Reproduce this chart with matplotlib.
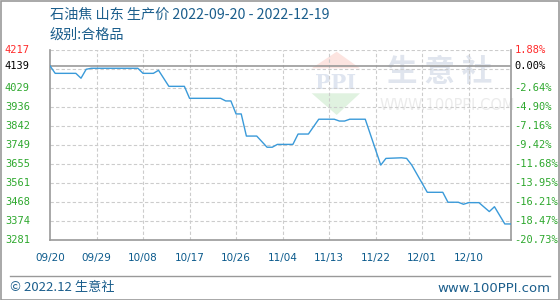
import matplotlib
matplotlib.use("Agg")
import matplotlib.pyplot as plt
from matplotlib.patches import Polygon, Rectangle
from matplotlib.lines import Line2D
import numpy as np
import datetime as dt

plt.rcParams['font.family'] = ['Noto Sans CJK SC', 'DejaVu Sans']

title = "石油焦 山东 生产价 2022-09-20 - 2022-12-19"
subtitle = "级别:合格品"
start_date = "2022-09-20"
dates = ["09-20", "09-21", "09-25", "09-26", "09-27", "09-28", "10-07", "10-08",
         "10-10", "10-11", "10-13", "10-16", "10-17", "10-23", "10-24", "10-25",
         "10-26", "10-27", "10-28", "10-30", "11-01", "11-02", "11-03", "11-06",
         "11-07", "11-09", "11-11", "11-14", "11-15", "11-16", "11-17", "11-20",
         "11-23", "11-24", "11-27", "11-28", "11-29", "12-02", "12-05", "12-06",
         "12-08", "12-09", "12-10", "12-12", "12-14", "12-15", "12-17", "12-19"]
prices = [4139, 4102, 4102, 4078, 4122, 4127, 4127, 4102,
          4102, 4117, 4038, 4038, 3979, 3979, 3966, 3966,
          3902, 3902, 3793, 3793, 3738, 3738, 3752, 3752,
          3803, 3803, 3876, 3876, 3867, 3867, 3876, 3876,
          3650, 3683, 3686, 3683, 3650, 3516, 3516, 3467,
          3467, 3457, 3465, 3465, 3421, 3445, 3360, 3360]
base_price = 4139
y_top, y_bottom = 4217, 3281
left_labels = ["4217", "4139", "4029", "3936", "3842", "3749", "3655", "3561", "3468", "3374", "3281"]
right_labels = ["1.88%", "0.00%", "-2.64%", "-4.90%", "-7.16%", "-9.42%", "-11.68%", "-13.95%", "-16.21%", "-18.47%", "-20.73%"]
xtick_labels = ["09/20", "09/29", "10/08", "10/17", "10/26", "11/04", "11/13", "11/22", "12/01", "12/10"]

d0 = dt.date.fromisoformat(start_date)
def day(s):
    m, d = map(int, s.split("-"))
    return (dt.date(2022, m, d) - d0).days

xs = np.array([day(s) for s in dates], dtype=float)
ys = np.array(prices, dtype=float)

W, H = 560, 300
fig = plt.figure(figsize=(W/100, H/100), dpi=100)
fig.patch.set_facecolor("white")

L, R, T, B = 50, 511, 50, 240
ax = fig.add_axes([L/W, 1 - B/H, (R-L)/W, (B-T)/H])
ax.set_xlim(0, 89.2)
ax.set_ylim(y_bottom, y_top)

# watermark (figure decoration)
def fx(x): return x / W
def fy(y): return 1 - y / H
fig.patches.append(Polygon([[fx(336.7), fy(51.7)], [fx(311.7), fy(68.3)], [fx(360), fy(68.3)]],
                           closed=True, transform=fig.transFigure, facecolor="#fce4e0", edgecolor="none", zorder=0.5))
fig.patches.append(Polygon([[fx(311.7), fy(93.3)], [fx(360), fy(93.3)], [fx(336.7), fy(115)]],
                           closed=True, transform=fig.transFigure, facecolor="#e0f2e0", edgecolor="none", zorder=0.5))
fig.text(fx(335.5), fy(83), "PPI", fontsize=15, color="#dfe5f0", ha="center", va="center",
         family="DejaVu Serif", fontweight="bold", zorder=0.6)
fig.text(fx(440), fy(72), "生 意 社", fontsize=22, color="#e0e5ee", ha="center", va="center",
         fontweight="bold", zorder=0.6)
fig.text(fx(447), fy(106), "WWW.100PPI.COM", fontsize=10.5, color="#ebebeb", ha="center", va="center",
         family="DejaVu Sans", zorder=0.6)
ax.set_facecolor("none")
ax.set_zorder(1)

# grid
n = len(left_labels) - 1
grid_vals = [y_top - i * (y_top - y_bottom) / n for i in range(n + 1)]
for g in grid_vals[:-1]:
    ax.axhline(g, color="#cccccc", lw=0.8, ls=(0, (3, 2)), zorder=1)
xt = [9 * i for i in range(len(xtick_labels))]
for x in xt[1:]:
    ax.axvline(x, color="#cccccc", lw=0.8, ls=(0, (3, 2)), zorder=1)
ax.axhline(base_price, color="#999999", lw=1.2, zorder=2)

ax.plot(xs, ys, color="#3a9ad9", lw=1.0, zorder=3)

for side in ["left", "right", "bottom"]:
    ax.spines[side].set_color("#999999")
    ax.spines[side].set_linewidth(1.2)
ax.spines["top"].set_visible(False)

ax.set_xticks(xt)
ax.set_xticklabels(xtick_labels, family="DejaVu Sans", fontsize=7.5, color="#0b5a8c")
ax.tick_params(axis="x", length=0, pad=9)
ax.set_yticks([])

# y labels
label_vals = [grid_vals[0], base_price] + grid_vals[2:]
for i, (v, lt, rt) in enumerate(zip(label_vals, left_labels, right_labels)):
    col = "#ff2a2a" if i == 0 else ("#000000" if i == 1 else "#2ea82e")
    ax.text(-45/5.16, v, lt, transform=ax.transData, fontsize=7.5, color=col,
            ha="left", va="center", family="DejaVu Sans Mono", clip_on=False)
    ax.text(1.008, (v - y_bottom) / (y_top - y_bottom), rt, transform=ax.transAxes, fontsize=7.5,
            color=col, ha="left", va="center", family="DejaVu Sans Mono", clip_on=False)

# titles
fig.text(fx(50), fy(15), title, fontsize=10.2, color="#1b5e8c", ha="left", va="center")
fig.text(fx(50), fy(35), subtitle, fontsize=10.2, color="#1b5e8c", ha="left", va="center")

# footer
fig.add_artist(Line2D([fx(10), fx(550)], [fy(275.5), fy(275.5)], transform=fig.transFigure, color="#999999", lw=1))
fig.text(fx(10), fy(288), "© 2022.12 生意社", fontsize=9.5, color="#1b5e8c", ha="left", va="center")
fig.text(fx(550), fy(288), "www.100PPI.com", fontsize=9.5, color="#1b5e8c", ha="right", va="center",
         family="DejaVu Sans")
fig.patches.append(Rectangle((0.5/W, 0.5/H), 1 - 1.5/W, 1 - 1.5/H, transform=fig.transFigure,
                             fill=False, edgecolor="#999999", lw=1.2))

fig.savefig("out.png", dpi=100)
